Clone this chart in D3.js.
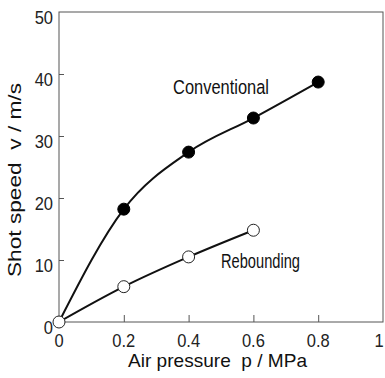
<!DOCTYPE html>
<html><head><meta charset="utf-8">
<script src="https://cdn.jsdelivr.net/npm/d3@7"></script>
<style>html,body{margin:0;padding:0;background:#fff;}svg{display:block;}</style>
</head><body>
<svg id="c" width="385" height="378"></svg>
<script>
const pressure = [0, 0.2, 0.4, 0.6, 0.8];
const conventional = [0, 18.2, 27.4, 32.9, 38.7];
const reboundingP = [0, 0.2, 0.4, 0.6];
const rebounding = [0, 5.7, 10.5, 14.8];
const xTicks = [0, 0.2, 0.4, 0.6, 0.8, 1];
const xTickLabels = ["0", "0.2", "0.4", "0.6", "0.8", "1"];
const yTicks = [0, 10, 20, 30, 40, 50];
const yTickLabels = ["0", "10", "20", "30", "40", "50"];

const svg = d3.select("#c");
const font = "'Liberation Sans', Arial, Helvetica, sans-serif";
const L = 59, R = 383, T = 12, B = 322;
const x = d3.scaleLinear().domain([0, 1]).range([L, R]);
const y = d3.scaleLinear().domain([0, 50]).range([B, T]);
const SY = 1.15; // vertical stretch of the printed glyphs

// frame
svg.append("rect").attr("x", L).attr("y", T).attr("width", R - L).attr("height", B - T)
  .attr("fill", "none").attr("stroke", "#555").attr("stroke-width", 1);

// ticks (inward)
const xAxis = d3.axisBottom(x).tickValues(xTicks.slice(1, 5)).tickSize(-7).tickFormat("");
svg.append("g").attr("transform", `translate(0,${B})`).call(xAxis)
  .call(g => g.select(".domain").remove())
  .call(g => g.selectAll("line").attr("stroke", "#555"));
const yAxis = d3.axisLeft(y).tickValues(yTicks.slice(1, 5)).tickSize(-5).tickFormat("");
svg.append("g").attr("transform", `translate(${L},0)`).call(yAxis)
  .call(g => g.select(".domain").remove())
  .call(g => g.selectAll("line").attr("stroke", "#555"));

// tick labels
svg.append("g").selectAll("text").data(xTicks).join("text")
  .attr("transform", d => `translate(${Math.min(x(d), 379)},${B + 25}) scale(1,${SY})`)
  .attr("text-anchor", "middle").attr("font-family", font).attr("font-size", 16.5)
  .attr("fill", "#222").text((d, i) => xTickLabels[i]);
svg.append("g").selectAll("text").data(yTicks).join("text")
  .attr("transform", d => `translate(${L - 6},${y(d) + 11.5}) scale(1,${SY})`)
  .attr("text-anchor", "end").attr("font-family", font).attr("font-size", 16.5)
  .attr("fill", "#222").text((d, i) => yTickLabels[i]);

// axis titles
svg.append("text").attr("x", 217.5).attr("y", 367).attr("text-anchor", "middle")
  .attr("font-family", font).attr("font-size", 19).attr("fill", "#111")
  .style("white-space", "pre")
  .attr("textLength", 179).attr("lengthAdjust", "spacingAndGlyphs")
  .text("Air pressure  p / MPa");
svg.append("text").attr("transform", "translate(21,180) rotate(-90)").attr("text-anchor", "middle")
  .attr("font-family", font).attr("font-size", 19).attr("fill", "#111")
  .style("white-space", "pre")
  .attr("textLength", 194).attr("lengthAdjust", "spacingAndGlyphs")
  .text("Shot speed  v / m/s");

// lines
const line = d3.line().x(d => x(d[0])).y(d => y(d[1])).curve(d3.curveMonotoneX);
const convData = pressure.map((p, i) => [p, conventional[i]]);
const rebData = reboundingP.map((p, i) => [p, rebounding[i]]);
svg.append("path").attr("d", line(convData)).attr("fill", "none").attr("stroke", "#111").attr("stroke-width", 2);
svg.append("path").attr("d", line(rebData)).attr("fill", "none").attr("stroke", "#111").attr("stroke-width", 2);

// markers
svg.append("g").selectAll("circle").data(convData.slice(1)).join("circle")
  .attr("cx", d => x(d[0])).attr("cy", d => y(d[1])).attr("r", 6)
  .attr("fill", "#000").attr("stroke", "#000").attr("stroke-width", 1);
svg.append("g").selectAll("circle").data(rebData).join("circle")
  .attr("cx", d => x(d[0])).attr("cy", d => y(d[1])).attr("r", 6)
  .attr("fill", "#fff").attr("stroke", "#222").attr("stroke-width", 1);

// series labels
svg.append("text").attr("transform", `translate(173,94) scale(1,1.18)`).attr("font-family", font).attr("font-size", 16.5)
  .attr("fill", "#111").attr("textLength", 96).attr("lengthAdjust", "spacingAndGlyphs").text("Conventional");
svg.append("text").attr("transform", `translate(221,268) scale(1,1.18)`).attr("font-family", font).attr("font-size", 16.5)
  .attr("fill", "#111").attr("textLength", 79).attr("lengthAdjust", "spacingAndGlyphs").text("Rebounding");
</script>
</body></html>
